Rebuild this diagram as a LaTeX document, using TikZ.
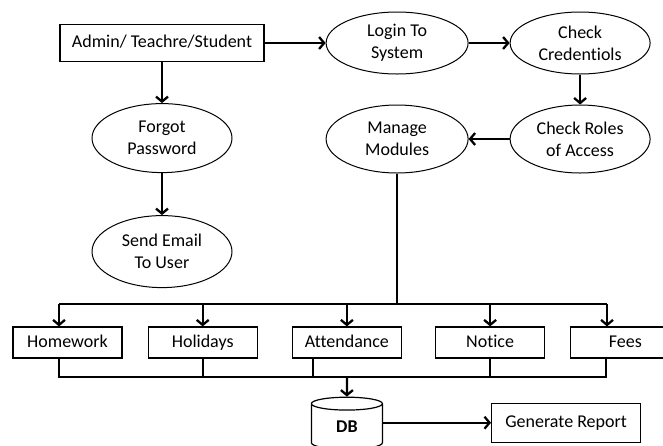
\documentclass[tikz,border=0pt]{standalone}
\usepackage{fontspec}
\setmainfont{Carlito}[Ligatures=NoCommon]
\usepackage{tikz}
\usetikzlibrary{shapes,arrows.meta,positioning}
\tikzstyle{proc} = [ellipse, draw=black, line width=1pt, fill=none, text=black, align=center, inner sep=0pt, minimum width=140pt, minimum height=66pt, font=\fontsize{18}{22}\selectfont]
\tikzstyle{box} = [rectangle, draw=black, line width=1.2pt, fill=none, text=black, text centered, inner sep=0pt, text height=12.5pt, text depth=3.5pt, minimum width=109pt, minimum height=31pt, font=\fontsize{18}{22}\selectfont]
\tikzstyle{store} = [cylinder, shape border rotate=90, aspect=0.6, draw=black, line width=1.2pt, text=black, inner sep=0pt, minimum width=71pt, minimum height=52pt, font=\bfseries\fontsize{18}{22}\selectfont]
\tikzstyle{tedge} = [draw, line width=2.3pt, -{Straight Barb[length=5pt,width=12pt]}]
\tikzstyle{tline} = [draw, line width=2.3pt]

\begin{document}
\begin{tikzpicture}[x=1pt,y=-1pt]
\useasboundingbox (0,0) rectangle (663,445);
%image
\node[box, minimum width=204pt, minimum height=37pt] (user) at (162,43) {Admin/ Teachre/Student};
\node[proc, minimum width=142pt, minimum height=62pt, right = 61pt of user] (login) {Login To\\System};
\node[proc, minimum height=62pt, right = 41pt of login] (cred) {Check\\Credentiols};
\node[proc, minimum height=68pt, below = 30pt of cred] (roles) {Check Roles\\of Access};
\node[proc, minimum width=142pt, minimum height=68pt, left = 41pt of roles] (manage) {Manage\\Modules};
\node[proc, minimum height=69pt, below = 41pt of user] (forgot) {Forgot\\Password};
\node[proc, minimum height=72pt, below = 42pt of forgot] (email) {Send Email\\To User};

\node[box] (homework) at (67.5,342.5) {Homework};
\node[box, right = 25pt of homework] (holidays) {Holidays};
\node[box, right = 34pt of holidays] (attendance) {Attendance};
\node[box, right = 33pt of attendance] (notice) {Notice};
\node[box, right = 25pt of notice] (fees) {Fees};

\node[store, below = 38pt of attendance] (db) {DB};
\node[box, minimum width=149pt, minimum height=39pt, right = 108pt of db, yshift=4pt] (report) {Generate Report};

\coordinate (top) at (59,304);
\coordinate (topend) at (607,304);
\coordinate (bot) at (59,377);
\coordinate (botend) at (606,377);

%paths
\path[tedge] (user) -- (login);
\path[tedge] (login) -- (cred);
\path[tedge] (cred) -- (roles);
\path[tedge] (roles) -- (manage);
\path[tedge] (user) -- (forgot);
\path[tedge] (forgot) -- (email);

\path[tline] (manage) -- (manage |- top);
\path[tline] (top) -- (topend);
\path[tedge] (top) -- (top |- homework.north);
\path[tedge] (holidays.north |- top) -- (holidays.north);
\path[tedge] (attendance.north |- top) -- (attendance.north);
\path[tedge] (notice.north |- top) -- (notice.north);
\path[tedge] (topend) -- (topend |- fees.north);

\path[tline] (homework.south -| bot) -- (bot) -- (botend) -- (fees.south -| botend);
\path[tline] (holidays.south) -- (holidays.south |- bot);
\path[tline] ([xshift=-34pt]attendance.south) -- ([xshift=-34pt]attendance.south |- bot);
\path[tline] (notice.south) -- (notice.south |- bot);
\path[tedge] (db |- bot) -- (db);
\path[tedge] (db.east |- report.west) -- (report.west);

\end{tikzpicture}
\end{document}
